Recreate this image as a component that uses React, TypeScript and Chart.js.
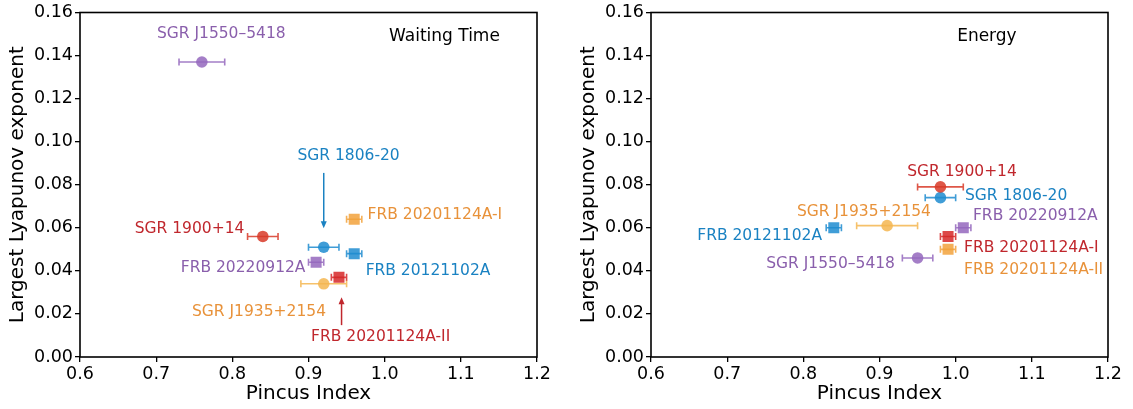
import React, { useEffect, useRef } from 'react';
import { Chart, registerables } from 'chart.js';

Chart.register(...registerables);

// ---------- data ----------
const sources = [
  'SGR J1550–5418',
  'SGR 1900+14',
  'SGR 1806-20',
  'SGR J1935+2154',
  'FRB 20121102A',
  'FRB 20201124A-I',
  'FRB 20201124A-II',
  'FRB 20220912A',
];
const markerShapes = ['circle', 'circle', 'circle', 'circle', 'rect', 'rect', 'rect', 'rect'];

const waitingX = [0.76, 0.84, 0.92, 0.92, 0.96, 0.96, 0.94, 0.91];
const waitingY = [0.137, 0.056, 0.051, 0.034, 0.048, 0.064, 0.037, 0.044];
const waitingXErr = [0.03, 0.02, 0.02, 0.03, 0.01, 0.01, 0.01, 0.01];

const energyX = [0.95, 0.98, 0.98, 0.91, 0.84, 0.99, 0.99, 1.01];
const energyY = [0.046, 0.079, 0.074, 0.061, 0.06, 0.056, 0.05, 0.06];
const energyXErr = [0.02, 0.03, 0.02, 0.04, 0.01, 0.01, 0.01, 0.01];

const xTicks = [0.6, 0.7, 0.8, 0.9, 1.0, 1.1, 1.2];
const yTicks = [0, 0.02, 0.04, 0.06, 0.08, 0.1, 0.12, 0.14, 0.16];

// ---------- styles ----------
const PURPLE = 'rgba(148,103,189,0.85)';
const RED = 'rgba(214,39,40,0.85)';
const REDC = 'rgba(216,58,40,0.85)';
const BLUE = 'rgba(31,140,208,0.85)';
const ORANGE = 'rgba(242,162,60,0.85)';
const LORANGE = 'rgba(245,182,80,0.85)';

const T_PURPLE = '#8a5fac';
const T_RED = '#c0272d';
const T_BLUE = '#1a82c2';
const T_ORANGE = '#e8923a';

const waitingColors = [PURPLE, REDC, BLUE, LORANGE, BLUE, ORANGE, RED, PURPLE];
const energyColors = [PURPLE, REDC, BLUE, LORANGE, BLUE, RED, ORANGE, PURPLE];

type Label = { text: string; x: number; y: number; align: CanvasTextAlign; color: string; size?: number };
type Arrow = { x: number; from: number; to: number; color: string };

const waitingLabels: Label[] = [
  { text: 'Waiting Time', x: 1.0785, y: 0.1487, align: 'center', color: '#000', size: 17 },
  { text: 'SGR J1550–5418', x: 0.7855, y: 0.1498, align: 'center', color: T_PURPLE },
  { text: 'SGR 1806-20', x: 0.9526, y: 0.0934, align: 'center', color: T_BLUE },
  { text: 'FRB 20201124A-I', x: 0.9776, y: 0.0661, align: 'left', color: T_ORANGE },
  { text: 'SGR 1900+14', x: 0.8158, y: 0.0594, align: 'right', color: T_RED },
  { text: 'FRB 20121102A', x: 0.975, y: 0.0399, align: 'left', color: T_BLUE },
  { text: 'FRB 20220912A', x: 0.896, y: 0.0413, align: 'right', color: T_PURPLE },
  { text: 'SGR J1935+2154', x: 0.835, y: 0.0209, align: 'center', color: T_ORANGE },
  { text: 'FRB 20201124A-II', x: 0.9947, y: 0.0093, align: 'center', color: T_RED },
];
const waitingArrows: Arrow[] = [
  { x: 0.92, from: 0.0855, to: 0.0598, color: T_BLUE },
  { x: 0.9434, from: 0.0148, to: 0.0278, color: T_RED },
];

const energyLabels: Label[] = [
  { text: 'Energy', x: 1.041, y: 0.1487, align: 'center', color: '#000', size: 17 },
  { text: 'SGR 1900+14', x: 1.0083, y: 0.0858, align: 'center', color: T_RED },
  { text: 'SGR 1806-20', x: 1.0122, y: 0.0747, align: 'left', color: T_BLUE },
  { text: 'SGR J1935+2154', x: 0.8796, y: 0.0672, align: 'center', color: T_ORANGE },
  { text: 'FRB 20220912A', x: 1.0227, y: 0.0654, align: 'left', color: T_PURPLE },
  { text: 'FRB 20121102A', x: 0.8245, y: 0.0561, align: 'right', color: T_BLUE },
  { text: 'FRB 20201124A-I', x: 1.011, y: 0.0506, align: 'left', color: T_RED },
  { text: 'SGR J1550–5418', x: 0.9203, y: 0.0431, align: 'right', color: T_PURPLE },
  { text: 'FRB 20201124A-II', x: 1.011, y: 0.0403, align: 'left', color: T_ORANGE },
];
const energyArrows: Arrow[] = [];

const FONT = "'DejaVu Sans', sans-serif";

type PanelProps = {
  xs: number[];
  ys: number[];
  xerr: number[];
  colors: string[];
  labels: Label[];
  arrows: Arrow[];
  width: number;
  yAxisWidth: number;
  rightPad: number;
  titlePad: number;
  left: number;
};

function Panel(p: PanelProps) {
  const ref = useRef<HTMLCanvasElement | null>(null);
  useEffect(() => {
    if (!ref.current) return;
    const datasets = sources.map((name, i) => ({
      label: name,
      data: [{ x: p.xs[i], y: p.ys[i] }],
      pointStyle: markerShapes[i] as any,
      pointRadius: markerShapes[i] === 'rect' ? 7.8 : 5.8,
      backgroundColor: p.colors[i],
      borderWidth: 0,
      borderColor: p.colors[i],
    }));

    const overlay = {
      id: 'overlay',
      beforeDatasetsDraw(chart: any) {
        const { ctx, scales } = chart;
        const xs = scales.x, ys = scales.y;
        ctx.save();
        ctx.lineWidth = 1.6;
        for (let i = 0; i < sources.length; i++) {
          const y = ys.getPixelForValue(p.ys[i]);
          const x1 = xs.getPixelForValue(p.xs[i] - p.xerr[i]);
          const x2 = xs.getPixelForValue(p.xs[i] + p.xerr[i]);
          ctx.strokeStyle = p.colors[i];
          ctx.beginPath();
          ctx.moveTo(x1, y);
          ctx.lineTo(x2, y);
          ctx.moveTo(x1, y - 3.5);
          ctx.lineTo(x1, y + 3.5);
          ctx.moveTo(x2, y - 3.5);
          ctx.lineTo(x2, y + 3.5);
          ctx.stroke();
        }
        ctx.restore();
      },
      afterDraw(chart: any) {
        const { ctx, scales, chartArea } = chart;
        const xs = scales.x, ys = scales.y;
        ctx.save();
        // frame
        ctx.strokeStyle = '#000';
        ctx.lineWidth = 1.6;
        ctx.strokeRect(chartArea.left, chartArea.top, chartArea.right - chartArea.left, chartArea.bottom - chartArea.top);
        // labels
        ctx.textBaseline = 'middle';
        for (const l of p.labels) {
          ctx.font = `${l.size ?? 15.5}px ${FONT}`;
          ctx.fillStyle = l.color;
          ctx.textAlign = l.align;
          ctx.fillText(l.text, xs.getPixelForValue(l.x), ys.getPixelForValue(l.y));
        }
        // arrows
        for (const a of p.arrows) {
          const x = xs.getPixelForValue(a.x);
          const y1 = ys.getPixelForValue(a.from);
          const y2 = ys.getPixelForValue(a.to);
          const dir = y2 > y1 ? 1 : -1;
          ctx.strokeStyle = a.color;
          ctx.fillStyle = a.color;
          ctx.lineWidth = 1.5;
          ctx.beginPath();
          ctx.moveTo(x, y1);
          ctx.lineTo(x, y2 - dir * 5);
          ctx.stroke();
          ctx.beginPath();
          ctx.moveTo(x, y2);
          ctx.lineTo(x - 3, y2 - dir * 7);
          ctx.lineTo(x + 3, y2 - dir * 7);
          ctx.closePath();
          ctx.fill();
        }
        ctx.restore();
      },
    };

    const chart = new Chart(ref.current, {
      type: 'scatter',
      data: { datasets },
      options: {
        responsive: false,
        animation: false,
        devicePixelRatio: 1,
        layout: { padding: { left: 0, right: p.rightPad, top: 12, bottom: 0 } },
        plugins: { legend: { display: false }, tooltip: { enabled: false } },
        scales: {
          x: {
            type: 'linear',
            min: 0.6,
            max: 1.2,
            afterFit: (s: any) => { s.height = 52; },
            afterBuildTicks: (s: any) => { s.ticks = xTicks.map((v) => ({ value: v })); },
            ticks: {
              color: '#000',
              font: { family: FONT, size: 17.5 },
              padding: 2,
              maxRotation: 0,
              callback: (v: any) => Number(v).toFixed(1),
            },
            grid: { display: true, drawOnChartArea: false, drawTicks: true, tickLength: 5, color: '#000', lineWidth: 1.3 },
            border: { display: false },
            title: {
              display: true,
              text: 'Pincus Index',
              color: '#000',
              font: { family: FONT, size: 20 },
              padding: { top: 0, bottom: 3 },
            },
          },
          y: {
            type: 'linear',
            min: 0,
            max: 0.16,
            afterFit: (s: any) => { s.width = p.yAxisWidth; },
            afterBuildTicks: (s: any) => { s.ticks = yTicks.map((v) => ({ value: v })); },
            ticks: {
              color: '#000',
              font: { family: FONT, size: 17.5 },
              padding: 2,
              callback: (v: any) => Number(v).toFixed(2),
            },
            grid: { display: true, drawOnChartArea: false, drawTicks: true, tickLength: 5, color: '#000', lineWidth: 1.3 },
            border: { display: false },
            title: {
              display: true,
              text: 'Largest Lyapunov exponent',
              color: '#000',
              font: { family: FONT, size: 20 },
              padding: { top: p.titlePad, bottom: 0 },
            },
          },
        },
      },
      plugins: [overlay],
    });
    return () => chart.destroy();
  }, []);
  return (
    <canvas
      ref={ref}
      width={p.width}
      height={409}
      style={{ position: 'absolute', left: p.left, top: 0, width: p.width, height: 409 }}
    />
  );
}

export default function App() {
  return (
    <div style={{ position: 'absolute', left: 0, top: 0, width: 1133, height: 409, background: '#fff' }}>
      <Panel
        xs={waitingX}
        ys={waitingY}
        xerr={waitingXErr}
        colors={waitingColors}
        labels={waitingLabels}
        arrows={waitingArrows}
        width={560}
        yAxisWidth={80}
        rightPad={23}
        titlePad={6}
        left={0}
      />
      <Panel
        xs={energyX}
        ys={energyY}
        xerr={energyXErr}
        colors={energyColors}
        labels={energyLabels}
        arrows={energyArrows}
        width={567}
        yAxisWidth={85}
        rightPad={25}
        titlePad={11}
        left={566}
      />
    </div>
  );
}
